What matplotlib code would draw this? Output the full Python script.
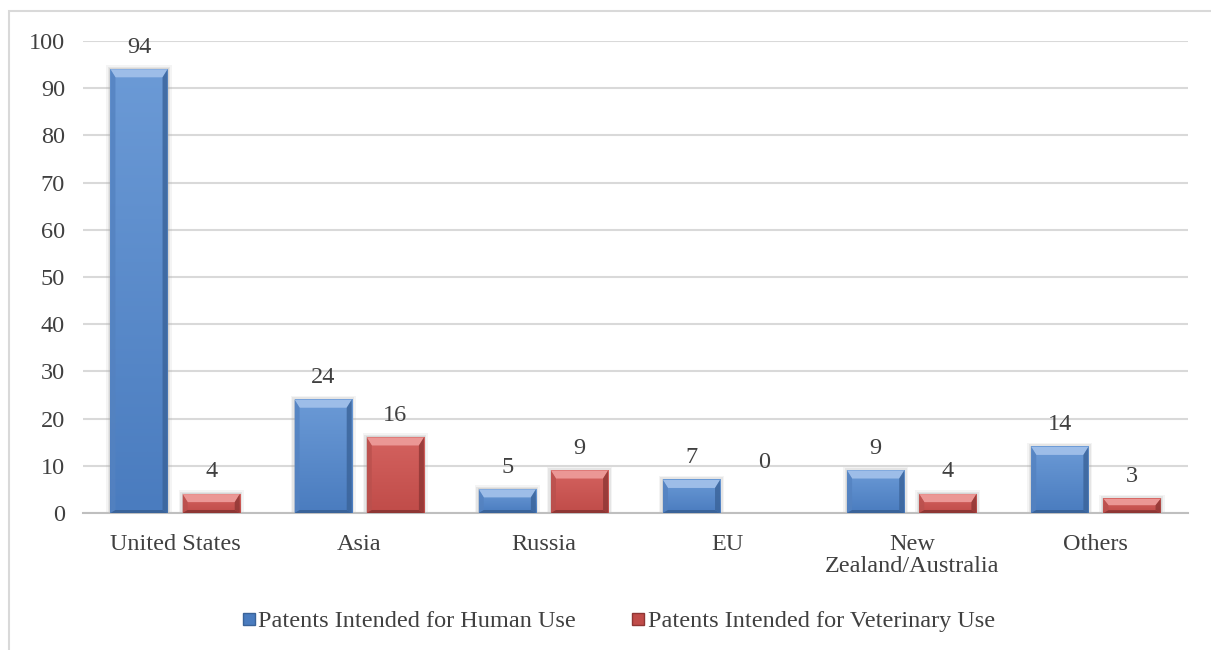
import numpy as np
import matplotlib.pyplot as plt
from matplotlib.patches import Polygon, Rectangle
from matplotlib.lines import Line2D
from matplotlib.colors import LinearSegmentedColormap

regions = ['United States', 'Asia', 'Russia', 'EU', 'New\nZealand/Australia', 'Others']
human = [94, 24, 5, 7, 9, 14]
veterinary = [4, 16, 9, 0, 4, 3]
series_names = ['Patents Intended for Human Use', 'Patents Intended for Veterinary Use']

plt.rcParams['font.family'] = ['Liberation Serif', 'DejaVu Serif']
text_col = '#404040'
fs = 17.5

# face top, face bottom, top bevel, side bevel, bottom bevel
blue = ('#6b9ad6', '#4a7cbf', '#9dbde8', '#5482c0', '#3a6399')
red = ('#d4625f', '#c04c49', '#eb9795', '#b9504d', '#8e3634')

fig = plt.figure(figsize=(12.11, 6.5), dpi=100)
ax = fig.add_axes([83 / 1211, 1 - 513 / 650, 1105 / 1211, 472 / 650])

# outer chart frame (top and left edges visible)
fig.patches.append(Rectangle((9 / 1211, -0.05), 1.2, 1 - 11 / 650 + 0.05,
                             transform=fig.transFigure, fill=False,
                             edgecolor='#d9d9d9', linewidth=1.5))

x = np.arange(len(regions))
off = 0.196
w = 0.31


def bevel_bars(bars, cols):
    c_top, c_bot, top, side, bottom = cols
    cmap = LinearSegmentedColormap.from_list('face', [c_bot, c_top])
    grad = np.linspace(0, 1, 64).reshape(-1, 1)
    px_x = 1 / 184.2
    px_y = 100 / 472
    for b in bars:
        x0, bw, h = b.get_x(), b.get_width(), b.get_height()
        if h <= 0:
            continue
        x1 = x0 + bw
        # soft drop shadow
        for k, a in ((4, 0.12), (2.5, 0.18), (1, 0.25)):
            ax.add_patch(Rectangle((x0 - k * px_x, 0), bw + 2 * k * px_x, h + k * px_y,
                                   facecolor='#a6a6a6', alpha=a, edgecolor='none', zorder=2))
        ax.imshow(grad, cmap=cmap, origin='lower', aspect='auto',
                  extent=(x0, x1, 0, h), zorder=3.5, interpolation='bilinear')
        dx = 5 * px_x
        dt = min(8 * px_y, h * 0.45)
        db = min(3 * px_y, h * 0.2)
        ax.add_patch(Polygon([(x0, h), (x1, h), (x1 - dx, h - dt), (x0 + dx, h - dt)],
                             facecolor=top, edgecolor='none', zorder=4))
        ax.add_patch(Polygon([(x0, 0), (x0, h), (x0 + dx, h - dt), (x0 + dx, db)],
                             facecolor=side, edgecolor='none', zorder=4, alpha=0.8))
        ax.add_patch(Polygon([(x1, 0), (x1, h), (x1 - dx, h - dt), (x1 - dx, db)],
                             facecolor=bottom, edgecolor='none', zorder=4, alpha=0.8))
        ax.add_patch(Polygon([(x0, 0), (x1, 0), (x1 - dx, db), (x0 + dx, db)],
                             facecolor=bottom, edgecolor='none', zorder=4))


b1 = ax.bar(x - off, human, w, color='none', zorder=3)
b2 = ax.bar(x + off, veterinary, w, color='none', zorder=3)
bevel_bars(b1, blue)
bevel_bars(b2, red)

for bars, vals in ((b1, human), (b2, veterinary)):
    for b, v in zip(bars, vals):
        extra = 20 if v == 0 else 0
        ax.annotate(str(v), (b.get_x() + b.get_width() / 2, v),
                    xytext=(0, 16 + extra), textcoords='offset points',
                    ha='center', va='center', fontsize=fs, color=text_col, zorder=5)

ax.set_xlim(-0.5, len(regions) - 0.5)
ax.set_ylim(0, 100)
ax.set_yticks(range(0, 101, 10))
ax.set_xticks(x)
ax.set_xticklabels(regions, linespacing=1.1)
ax.tick_params(axis='y', length=0, pad=13, labelsize=fs, labelcolor=text_col)
ax.tick_params(axis='x', length=0, pad=15, labelsize=fs, labelcolor=text_col)
ax.grid(axis='y', color='#d9d9d9', linewidth=1.5, zorder=0)
ax.set_axisbelow(True)
for s in ('top', 'right', 'left'):
    ax.spines[s].set_visible(False)
ax.spines['bottom'].set_color('#bfbfbf')
ax.spines['bottom'].set_linewidth(1.5)

handles = [Line2D([], [], marker='s', linestyle='none', markersize=9,
                  markerfacecolor=blue[1], markeredgecolor=blue[4]),
           Line2D([], [], marker='s', linestyle='none', markersize=9,
                  markerfacecolor=red[1], markeredgecolor=red[4])]
fig.legend(handles, series_names, loc='center', bbox_to_anchor=(617 / 1211, 1 - 621 / 650),
           ncol=2, frameon=False, fontsize=fs, labelcolor=text_col,
           handletextpad=0.0, columnspacing=2.15, handlelength=0.8)

fig.savefig('out.png', dpi=100, facecolor='white')
